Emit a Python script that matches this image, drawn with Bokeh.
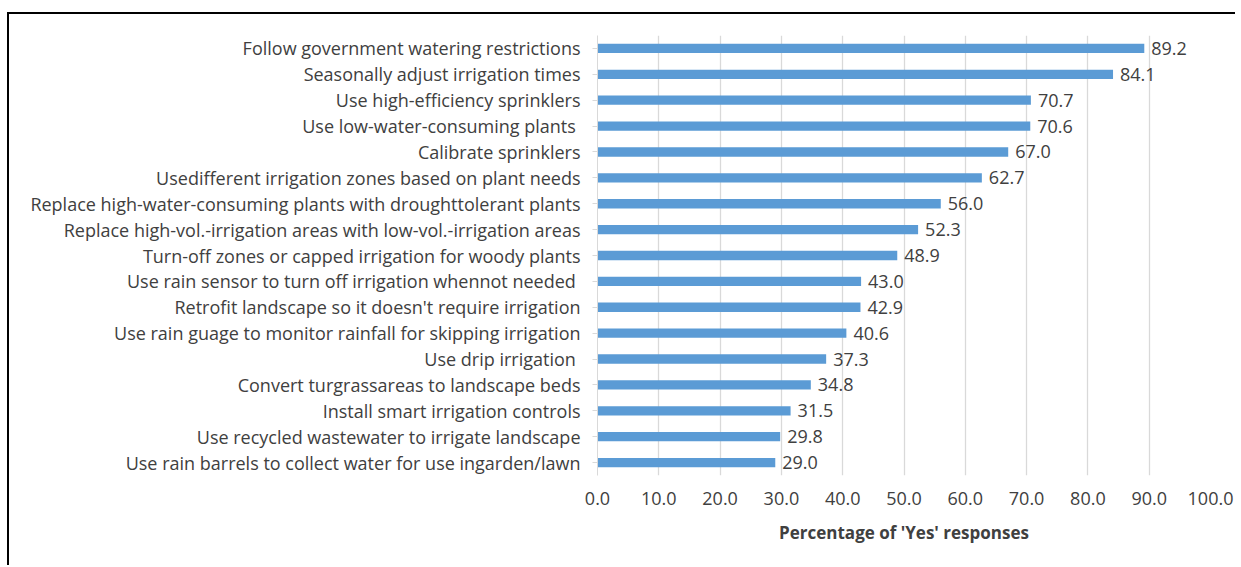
from bokeh.plotting import figure
from bokeh.models import ColumnDataSource, Range1d, FactorRange, LabelSet, FixedTicker, CustomJSTickFormatter
from bokeh.core.properties import value
from bokeh.embed import file_html
from bokeh.resources import INLINE

practices = [
    "Follow government watering restrictions",
    "Seasonally adjust irrigation times",
    "Use high-efficiency sprinklers",
    "Use low-water-consuming plants ",
    "Calibrate sprinklers",
    "Usedifferent irrigation zones based on plant needs",
    "Replace high-water-consuming plants with droughttolerant plants",
    "Replace high-vol.-irrigation areas with low-vol.-irrigation areas",
    "Turn-off zones or capped irrigation for woody plants",
    "Use rain sensor to turn off irrigation whennot needed ",
    "Retrofit landscape so it doesn't require irrigation",
    "Use rain guage to monitor rainfall for skipping irrigation",
    "Use drip irrigation ",
    "Convert turgrassareas to landscape beds",
    "Install smart irrigation controls",
    "Use recycled wastewater to irrigate landscape",
    "Use rain barrels to collect water for use ingarden/lawn",
]
yes_pct = [89.2, 84.1, 70.7, 70.6, 67.0, 62.7, 56.0, 52.3, 48.9, 43.0,
           42.9, 40.6, 37.3, 34.8, 31.5, 29.8, 29.0]
x_ticks = [0, 10, 20, 30, 40, 50, 60, 70, 80, 90, 100]

FONT = "Open Sans"
TEXT = "#404040"

source = ColumnDataSource(dict(
    practice=practices,
    pct=yes_pct,
    label=[f"{v:.1f}" for v in yes_pct],
))

p = figure(
    width=1228, height=553,
    y_range=FactorRange(*reversed(practices), range_padding=0),
    x_range=Range1d(0, 100),
    output_backend="svg", toolbar_location=None,
    min_border_left=588, min_border_right=27,
    min_border_top=21, min_border_bottom=92,
)
# outer chart border: only the top and left edges fall inside the page
p.styles = {
    "margin-left": "7px",
    "margin-top": "12px",
    "border-left": "2px solid black",
    "border-top": "2px solid black",
}
p.outline_line_color = None
p.background_fill_color = "white"
p.border_fill_color = "white"

p.hbar(y="practice", right="pct", left=0, height=0.36, source=source,
       fill_color="#5B9BD5", line_color=None)

p.add_layout(LabelSet(x="pct", y="practice", text="label", source=source,
                      x_offset=7, y_offset=0, text_baseline="middle",
                      text_font=value(FONT), text_font_size="18px",
                      text_color=TEXT))

# grid
p.ygrid.grid_line_color = None
p.xgrid.grid_line_color = "#D9D9D9"
p.xgrid.grid_line_width = 1.3
p.xaxis.ticker = FixedTicker(ticks=x_ticks)
p.xaxis.formatter = CustomJSTickFormatter(code="return tick.toFixed(1);")

# x axis
p.xaxis.axis_line_color = None
p.xaxis.major_tick_line_color = None
p.xaxis.minor_tick_line_color = None
p.xaxis.major_label_text_font = FONT
p.xaxis.major_label_text_font_size = "18px"
p.xaxis.major_label_text_color = TEXT
p.xaxis.major_label_standoff = 10
p.xaxis.axis_label = "Percentage of 'Yes' responses"
p.xaxis.axis_label_text_font = FONT
p.xaxis.axis_label_text_font_style = "bold"
p.xaxis.axis_label_text_font_size = "17px"
p.xaxis.axis_label_text_color = TEXT
p.xaxis.axis_label_standoff = 13

# y axis
p.yaxis.axis_line_color = "#D9D9D9"
p.yaxis.major_tick_line_color = "#D9D9D9"
p.yaxis.major_tick_out = 5
p.yaxis.major_tick_in = 0
p.yaxis.major_label_text_font = FONT
p.yaxis.major_label_text_font_size = "18px"
p.yaxis.major_label_text_color = TEXT
p.yaxis.major_label_standoff = 12

open("out.html", "w").write(file_html(p, INLINE))
